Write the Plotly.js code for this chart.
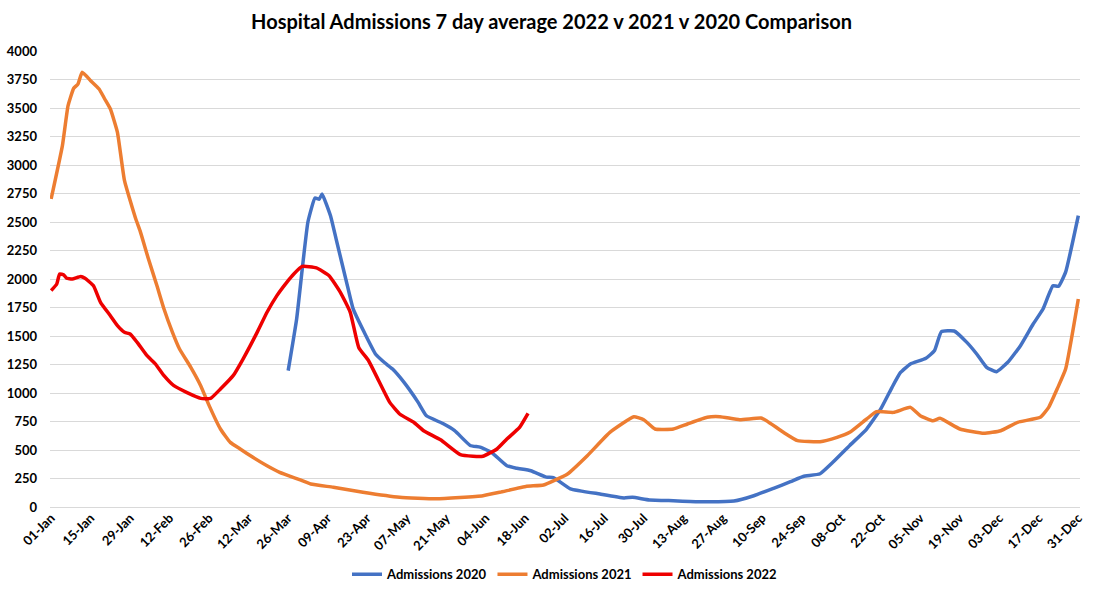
<!DOCTYPE html>
<html>
<head>
<meta charset="utf-8">
<script src="https://cdn.plot.ly/plotly-3.0.1.min.js"></script>
<style>
    body { margin: 0; background: #fff; }
    #chart { width: 1103px; height: 600px; }
</style>
</head>
<body>
<div id="chart"></div>
<script>
// day of year (0 = 01-Jan) and 7 day average admissions
let days2020 = [84, 87, 89, 91, 93.5, 95, 96, 99, 101, 105, 107, 111, 115, 118, 121, 125, 130, 133, 139, 143, 148.5, 152, 156, 161.5, 165, 170, 175.5, 178, 184, 194.5, 203, 206, 212, 220.5, 230, 242, 249, 256, 262, 266.5, 272.5, 277, 283, 289, 294, 298, 301, 304.5, 310, 313, 315.5, 320, 324.5, 328, 331.5, 335, 339, 343.5, 348, 351.5, 355, 357, 359.5, 364]
let admissions2020 = [1196, 1650, 2090, 2500, 2710, 2700, 2745, 2555, 2350, 1940, 1740, 1530, 1340, 1270, 1210, 1095, 920, 800, 730, 670, 540, 525, 480, 362, 340, 318, 262, 258, 160, 114, 80, 85, 62, 55, 47, 53, 99, 164, 222, 268, 292, 392, 540, 684, 860, 1050, 1180, 1254, 1304, 1370, 1538, 1544, 1444, 1342, 1225, 1187, 1269, 1415, 1605, 1737, 1940, 1936, 2060, 2555]

let days2021 = [0, 4, 6, 8, 9.5, 11, 14, 17, 19, 21, 23.5, 26, 30, 31.5, 34.5, 37.5, 40, 43, 45.5, 49.5, 53, 56, 60, 63.5, 67, 71.5, 76.5, 81, 88, 92, 100, 110.5, 123.5, 136.5, 153, 159, 168.5, 174.5, 183, 190, 198, 206.5, 210, 214, 220.5, 225.5, 232.5, 237, 244, 251.5, 253.5, 259.5, 264.5, 272.5, 278.5, 283, 289, 292.5, 298.5, 304.5, 308, 312.5, 315, 322, 330.5, 336.5, 342.5, 350.5, 353.5, 356.5, 359.5, 364]
let admissions2021 = [2702, 3170, 3520, 3673, 3710, 3813, 3740, 3667, 3579, 3491, 3287, 2862, 2526, 2424, 2175, 1941, 1737, 1532, 1386, 1225, 1064, 889, 684, 567, 509, 436, 362, 304, 240, 202, 173, 129, 85, 72, 99, 129, 182, 193, 290, 450, 655, 792, 766, 684, 684, 728, 787, 792, 766, 780, 757, 655, 582, 573, 611, 655, 772, 836, 830, 874, 801, 757, 778, 684, 646, 669, 743, 787, 874, 1035, 1210, 1825]

let days2022 = [0, 2, 3, 4.5, 5.5, 7.5, 10.5, 12, 15, 17.5, 21, 23.5, 26, 28, 30.5, 34, 37, 40, 43.5, 48, 53, 56.5, 60, 64.5, 68, 73, 76.5, 80, 83.5, 86, 89, 94, 98.5, 102.5, 106, 109, 112.5, 115.5, 120, 123.5, 128.5, 132, 138, 145, 149.5, 153, 158, 161.5, 166, 169]
let admissions2022 = [1898, 1956, 2044, 2035, 2006, 2000, 2023, 2006, 1941, 1796, 1678, 1591, 1532, 1518, 1444, 1327, 1254, 1152, 1064, 1006, 953, 953, 1035, 1152, 1298, 1532, 1708, 1854, 1971, 2044, 2110, 2097, 2029, 1883, 1708, 1400, 1283, 1137, 918, 816, 743, 669, 590, 459, 445, 445, 509, 596, 699, 822]

let tickDays = [0, 14, 28, 42, 56, 70, 84, 98, 112, 126, 140, 154, 168, 182, 196, 210, 224, 238, 252, 266, 280, 294, 308, 322, 336, 350, 364]
let tickLabels = ['01-Jan', '15-Jan', '29-Jan', '12-Feb', '26-Feb', '12-Mar', '26-Mar', '09-Apr', '23-Apr', '07-May', '21-May', '04-Jun', '18-Jun', '02-Jul', '16-Jul', '30-Jul', '13-Aug', '27-Aug', '10-Sep', '24-Sep', '08-Oct', '22-Oct', '05-Nov', '19-Nov', '03-Dec', '17-Dec', '31-Dec']

let font = 'Lato, "Open Sans", sans-serif'

function series(x, y, name, color) {
    return {
        x: x,
        y: y,
        name: name,
        mode: 'lines',
        line: { color: color, width: 3.5, shape: 'spline', smoothing: 0.4 },
        hoverinfo: 'x+y+name'
    }
}

let data = [
    series(days2020, admissions2020, 'Admissions 2020', '#4472C4'),
    series(days2021, admissions2021, 'Admissions 2021', '#ED7D31'),
    series(days2022, admissions2022, 'Admissions 2022', '#EE0000')
]

let layout = {
    width: 1103,
    height: 600,
    paper_bgcolor: '#fff',
    plot_bgcolor: '#fff',
    margin: { l: 50, r: 23, t: 51, b: 92 },
    font: { family: font, color: '#000' },
    title: {
        text: 'Hospital Admissions 7 day average 2022 v 2021 v 2020 Comparison',
        font: { family: font, size: 20, weight: 'bold', color: '#000' },
        x: 0.5,
        xanchor: 'center',
        y: 0.963,
        yanchor: 'middle'
    },
    xaxis: {
        range: [-0.4, 364.6],
        tickmode: 'array',
        tickvals: tickDays,
        ticktext: tickLabels,
        tickangle: -45,
        tickfont: { family: font, size: 13, weight: 'bold', color: '#000' },
        showgrid: false,
        zeroline: false,
        showline: false,
        ticks: ''
    },
    yaxis: {
        range: [0, 4000],
        tickmode: 'linear',
        tick0: 0,
        dtick: 250,
        tickformat: 'd',
        tickfont: { family: font, size: 13, weight: 'bold', color: '#000' },
        showgrid: true,
        gridcolor: '#D9D9D9',
        gridwidth: 1,
        zeroline: true,
        zerolinecolor: '#D9D9D9',
        zerolinewidth: 1,
        showline: false,
        ticks: '',
        ticklabelstandoff: 12
    },
    showlegend: true,
    legend: {
        orientation: 'h',
        x: 0.5,
        xanchor: 'center',
        y: -0.145,
        yanchor: 'middle',
        font: { family: font, size: 13, weight: 'bold', color: '#000' },
        itemwidth: 30,
        tracegroupgap: 0
    }
}

Plotly.newPlot('chart', data, layout, { displayModeBar: false, staticPlot: true })
</script>
</body>
</html>
